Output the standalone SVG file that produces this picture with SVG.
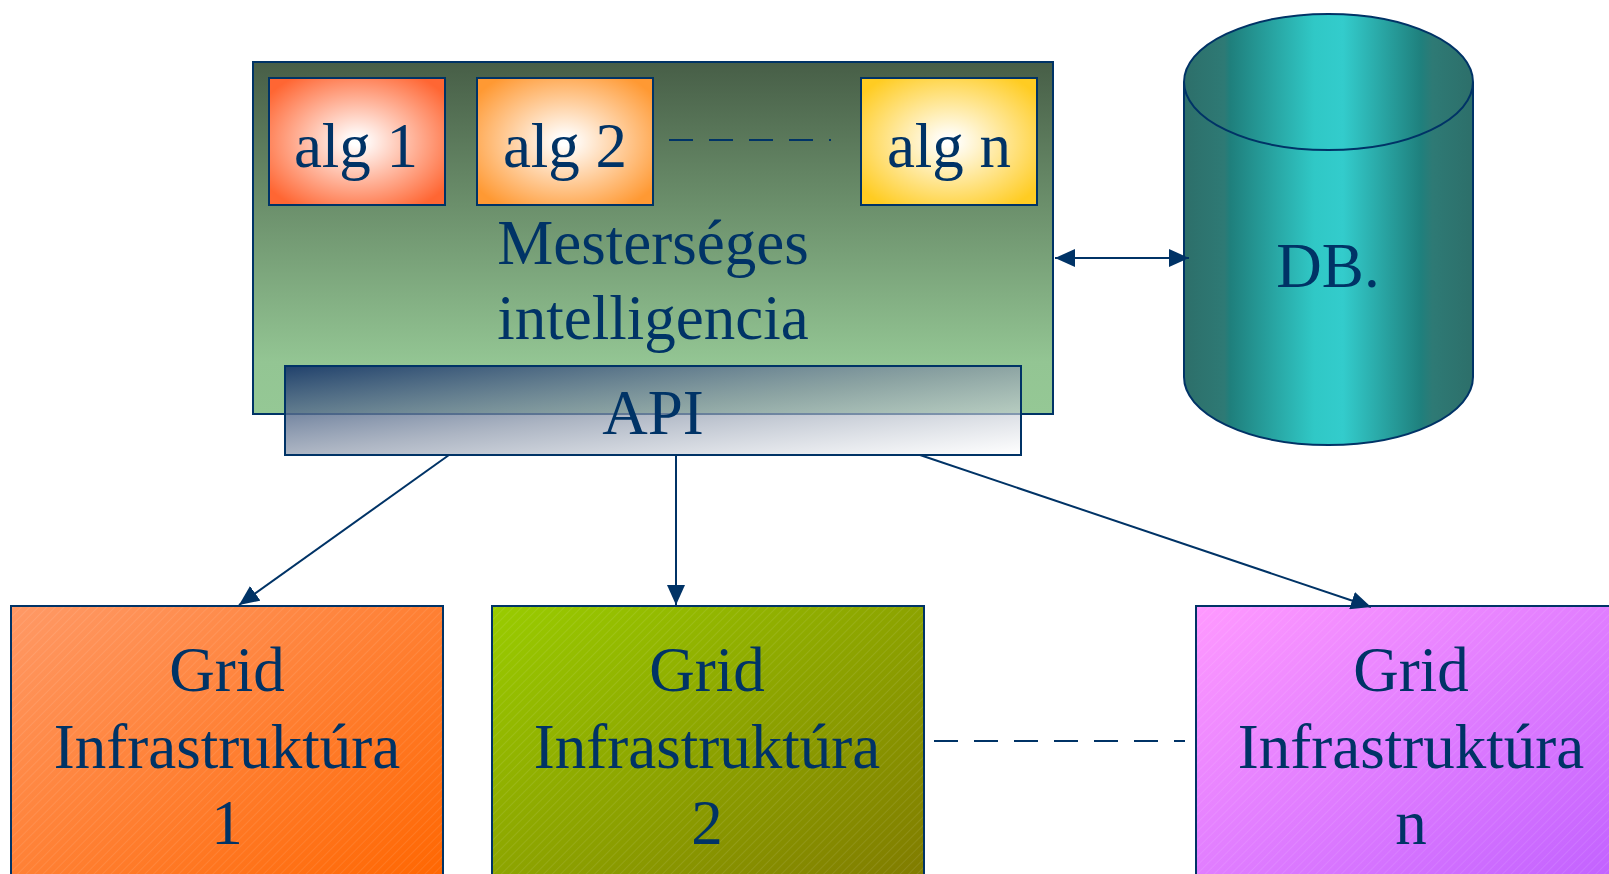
<svg xmlns="http://www.w3.org/2000/svg" width="1609" height="874" viewBox="0 0 1609 874">
<style>
.t{font-family:"Liberation Serif","Times New Roman",serif;font-size:63px;fill:#003366;text-anchor:middle}
.box{stroke:#003366;stroke-width:2}
.conn{stroke:#003366;stroke-width:2;fill:none}
.dash{stroke:#003366;stroke-width:2;fill:none;stroke-dasharray:24 16}
</style>
<defs>
<linearGradient id="gGreen" x1="0" y1="0" x2="0" y2="1">
<stop offset="0" stop-color="#475e47"/>
<stop offset="0.85" stop-color="#93c593"/>
<stop offset="1" stop-color="#95c895"/>
</linearGradient>
<radialGradient id="gAlg1" cx="0.5" cy="0.5" r="0.62">
<stop offset="0.05" stop-color="#ffffff"/>
<stop offset="1" stop-color="#ff6633"/>
</radialGradient>
<radialGradient id="gAlg2" cx="0.5" cy="0.5" r="0.62">
<stop offset="0.05" stop-color="#ffffff"/>
<stop offset="1" stop-color="#ff9933"/>
</radialGradient>
<radialGradient id="gAlgN" cx="0.5" cy="0.5" r="0.62">
<stop offset="0.05" stop-color="#ffffff"/>
<stop offset="1" stop-color="#ffcc22"/>
</radialGradient>
<linearGradient id="gApi" x1="0" y1="0" x2="1" y2="1">
<stop offset="0" stop-color="#1a3a6a" stop-opacity="0.95"/>
<stop offset="0.5" stop-color="#8a96aa" stop-opacity="0.7"/>
<stop offset="1" stop-color="#ffffff" stop-opacity="0.6"/>
</linearGradient>
<linearGradient id="gDb" x1="0" y1="0" x2="1" y2="0">
<stop offset="0" stop-color="#2d6f6a"/>
<stop offset="0.14" stop-color="#2e7a75"/>
<stop offset="0.16" stop-color="#1f7f7c"/>
<stop offset="0.45" stop-color="#30c8c6"/>
<stop offset="0.55" stop-color="#33cccc"/>
<stop offset="0.82" stop-color="#1f807d"/>
<stop offset="0.86" stop-color="#2e7a75"/>
<stop offset="1" stop-color="#2d6f6a"/>
</linearGradient>
<linearGradient id="gG1" x1="0" y1="0" x2="1" y2="1">
<stop offset="0" stop-color="#ff9966"/>
<stop offset="1" stop-color="#ff6600"/>
</linearGradient>
<linearGradient id="gG2" x1="0" y1="0" x2="1" y2="1">
<stop offset="0" stop-color="#99cc00"/>
<stop offset="1" stop-color="#807a00"/>
</linearGradient>
<linearGradient id="gG3" x1="0" y1="0" x2="1" y2="1">
<stop offset="0" stop-color="#ff99ff"/>
<stop offset="1" stop-color="#c060ff"/>
</linearGradient>
<pattern id="hatch" width="6" height="6" patternUnits="userSpaceOnUse" patternTransform="rotate(45)">
<line x1="0" y1="0" x2="0" y2="6" stroke="#ffffff" stroke-width="1" stroke-opacity="0.18"/>
</pattern>
<marker id="arr" markerUnits="userSpaceOnUse" markerWidth="20" markerHeight="18" refX="20" refY="9" orient="auto-start-reverse" viewBox="0 0 20 18">
<path d="M0,0 L20,9 L0,18 z" fill="#003366"/>
</marker>
</defs>
<rect width="1609" height="874" fill="#ffffff"/>

<g id="ai">
<rect class="box" x="253" y="62" width="800" height="352" fill="url(#gGreen)"/>
<text class="t" x="653" y="264">Mesterséges</text>
<text class="t" x="653" y="339">intelligencia</text>
</g>
<g id="alg1">
<rect class="box" x="269" y="78" width="176" height="127" fill="url(#gAlg1)"/>
<text class="t" x="356" y="167">alg 1</text>
</g>
<g id="alg2">
<rect class="box" x="477" y="78" width="176" height="127" fill="url(#gAlg2)"/>
<text class="t" x="565" y="167">alg 2</text>
</g>
<g id="algn">
<rect class="box" x="861" y="78" width="176" height="127" fill="url(#gAlgN)"/>
<text class="t" x="949" y="167">alg n</text>
</g>
<g id="api">
<rect class="box" x="285" y="366" width="736" height="89" fill="url(#gApi)"/>
<text class="t" x="653" y="434">API</text>
</g>
<g id="db">
<path class="box" d="M1184,82 L1184,377 A144.5,68 0 0 0 1473,377 L1473,82 A144.5,68 0 0 0 1184,82 Z" fill="url(#gDb)"/>
<path class="box" d="M1184,82 A144.5,68 0 0 0 1473,82" fill="none"/>
<text class="t" x="1328" y="287">DB.</text>
</g>
<g id="grid1">
<rect class="box" x="11" y="606" width="432" height="280" fill="url(#gG1)"/>
<rect x="12" y="607" width="430" height="278" fill="url(#hatch)"/>
<text class="t" x="227" y="691">Grid</text>
<text class="t" x="227" y="768">Infrastruktúra</text>
<text class="t" x="227" y="844">1</text>
</g>
<g id="grid2">
<rect class="box" x="492" y="606" width="432" height="280" fill="url(#gG2)"/>
<rect x="493" y="607" width="430" height="278" fill="url(#hatch)"/>
<text class="t" x="707" y="691">Grid</text>
<text class="t" x="707" y="768">Infrastruktúra</text>
<text class="t" x="707" y="844">2</text>
</g>
<g id="gridn">
<rect class="box" x="1196" y="606" width="432" height="280" fill="url(#gG3)"/>
<rect x="1197" y="607" width="430" height="278" fill="url(#hatch)"/>
<text class="t" x="1411" y="691">Grid</text>
<text class="t" x="1411" y="768">Infrastruktúra</text>
<text class="t" x="1411" y="844">n</text>
</g>

<g id="connectors">
<line class="dash" x1="669" y1="140" x2="831" y2="140"/>
<line class="dash" x1="934" y1="741" x2="1185" y2="741"/>
<line class="conn" x1="1055" y1="258" x2="1189" y2="258" marker-start="url(#arr)" marker-end="url(#arr)"/>
<line class="conn" x1="449" y1="455" x2="239" y2="605" marker-end="url(#arr)"/>
<line class="conn" x1="676" y1="455" x2="676" y2="605" marker-end="url(#arr)"/>
<line class="conn" x1="920" y1="455" x2="1371" y2="607" marker-end="url(#arr)"/>
</g>
</svg>
